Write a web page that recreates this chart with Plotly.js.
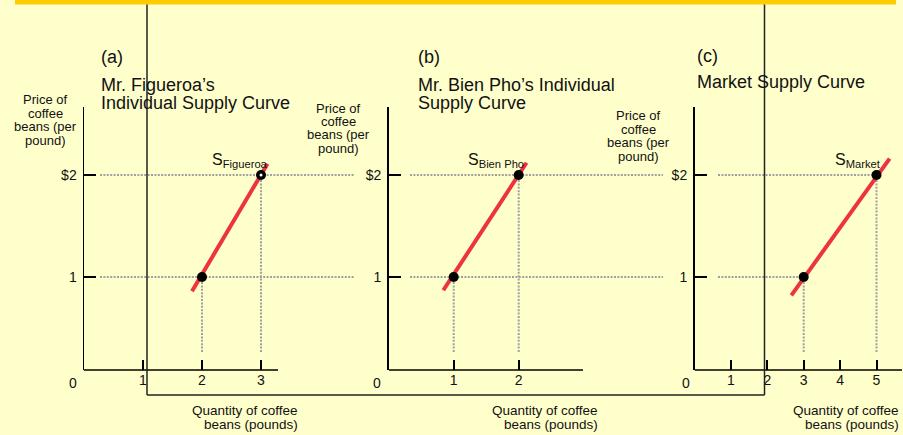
<!DOCTYPE html>
<html>
<head>
<meta charset="utf-8">
<script src="https://cdn.plot.ly/plotly-3.0.1.min.js"></script>
<style>
  html, body { margin: 0; padding: 0; background: #FFFFCC; }
  #chart { width: 903px; height: 435px; }
</style>
</head>
<body>
<div id="chart"></div>
<script>
// ---------- DATA ----------
const prices = [1, 2];                       // price points ($ per pound)
const priceTickText = ['1', '$2'];
const qtyFigueroa = [2, 3];                  // pounds supplied by Mr. Figueroa
const qtyBienPho = [1, 2];                   // pounds supplied by Mr. Bien Pho
const qtyMarket = [3, 5];                    // market quantity supplied
const ticksA = [1, 2, 3];
const ticksB = [1, 2];
const ticksC = [1, 2, 3, 4, 5];
// supply-curve segment ends (quantity, price)
const supplyA_x = [1.83, 3.11], supplyA_y = [0.86, 2.11];
const supplyB_x = [0.84, 2.12], supplyB_y = [0.87, 2.12];
const supplyC_x = [2.66, 5.36], supplyC_y = [0.82, 2.16];
const panelLetters = ['(a)', '(b)', '(c)'];
const supplyNames = ['Figueroa', 'Bien Pho', 'Market'];

// ---------- LAYOUT HELPERS ----------
const W = 903, H = 435;
const FONT = 'Liberation Sans, Arial, Helvetica, sans-serif';
const TXT = '#111111';
const px = v => v / W;
const py = v => 1 - v / H;

// panel geometry (pixels) : y-axis pixel, pixels per unit, domain right edge, axis line end
const panels = [
  { x0: 84,    unit: 59,   right: 356, axisEnd: 278, guideFrom: 100, guideTo: 355 },
  { x0: 388.7, unit: 65,   right: 664, axisEnd: 583, guideFrom: 410, guideTo: 663 },
  { x0: 694.5, unit: 36.4, right: 903, axisEnd: 902, guideFrom: 718, guideTo: null }
];
const yTopPx = 107, yBotPx = 370;
const y2Px = 175, y1Px = 277;
const pUnit = (y1Px - y2Px);
const yVal = p => 2 - (p - y2Px) / pUnit;
const yRange = [yVal(yBotPx), yVal(yTopPx)];
const guideBottom = yVal(352);

const qtys = [qtyFigueroa, qtyBienPho, qtyMarket];
const supX = [supplyA_x, supplyB_x, supplyC_x];
const supY = [supplyA_y, supplyB_y, supplyC_y];
const tickSets = [ticksA, ticksB, ticksC];

const RED = '#EE3340';
const GUIDE = '#A0A0A0';
const DOT = '2px,1.4px';

const traces = [];
const layout = {
  width: W, height: H,
  margin: { l: 0, r: 0, t: 0, b: 0 },
  paper_bgcolor: '#FFFFCC', plot_bgcolor: 'rgba(0,0,0,0)',
  showlegend: false,
  font: { family: FONT, color: TXT },
  shapes: [], annotations: []
};

panels.forEach((pn, i) => {
  const xa = i === 0 ? 'x' : 'x' + (i + 1);
  const ya = i === 0 ? 'y' : 'y' + (i + 1);
  const xName = i === 0 ? 'xaxis' : 'xaxis' + (i + 1);
  const yName = i === 0 ? 'yaxis' : 'yaxis' + (i + 1);
  const xv = p => (p - pn.x0) / pn.unit;
  const q = qtys[i];

  layout[xName] = {
    domain: [px(pn.x0), px(pn.right)], range: [0, xv(pn.right)],
    anchor: ya, showgrid: false, zeroline: false, showline: false,
    ticks: 'inside', ticklen: 10, tickwidth: 2, tickcolor: '#000',
    tickvals: tickSets[i], ticktext: tickSets[i].map(String),
    tickfont: { size: 14, family: FONT, color: TXT }, fixedrange: true
  };
  layout[yName] = {
    domain: [py(yBotPx), py(yTopPx)], range: yRange,
    anchor: xa, showgrid: false, zeroline: false,
    showline: true, linecolor: '#000', linewidth: 1.5,
    ticks: 'inside', ticklen: 12, tickwidth: 2, tickcolor: '#000',
    tickvals: prices, ticktext: priceTickText, ticklabelstandoff: 3,
    tickfont: { size: 14, family: FONT, color: TXT }, fixedrange: true
  };
  // x axis line (only to its drawn length)
  layout.shapes.push({ type: 'line', xref: xa, yref: 'paper', x0: 0, x1: xv(pn.axisEnd),
    y0: py(yBotPx), y1: py(yBotPx), line: { color: '#000', width: 1.5 } });

  // horizontal guides
  prices.forEach((p, k) => {
    const xEnd = pn.guideTo === null ? q[k] : xv(pn.guideTo);
    traces.push({ x: [xv(pn.guideFrom), xEnd], y: [p, p], xaxis: xa, yaxis: ya,
      mode: 'lines', line: { color: GUIDE, width: 2, dash: DOT }, hoverinfo: 'skip', cliponaxis: false });
  });
  // vertical guides
  q.forEach((qq, k) => {
    traces.push({ x: [qq, qq], y: [guideBottom, prices[k]], xaxis: xa, yaxis: ya,
      mode: 'lines', line: { color: GUIDE, width: 2, dash: DOT }, hoverinfo: 'skip' });
  });
  // supply curve
  traces.push({ x: supX[i], y: supY[i], xaxis: xa, yaxis: ya, mode: 'lines',
    line: { color: RED, width: 4 }, hoverinfo: 'skip' });
  // points
  traces.push({ x: q, y: prices, xaxis: xa, yaxis: ya, mode: 'markers',
    marker: { color: '#000', size: 10 }, hoverinfo: 'skip', cliponaxis: false });
});
// tiny white centre on Figueroa's upper point
traces.push({ x: [qtyFigueroa[1]], y: [prices[1]], xaxis: 'x', yaxis: 'y', mode: 'markers',
  marker: { color: '#ffffff', size: 3 }, hoverinfo: 'skip', cliponaxis: false });

// ---------- DECORATION ----------
layout.shapes.push({ type: 'rect', xref: 'paper', yref: 'paper', x0: px(15), x1: px(896),
  y0: py(4.5), y1: py(0), fillcolor: '#FFCC00', line: { width: 0 } });
const frame = { color: '#222', width: 1.5 };
layout.shapes.push({ type: 'line', xref: 'paper', yref: 'paper', x0: px(147), x1: px(147), y0: py(4.5), y1: py(395), line: frame });
layout.shapes.push({ type: 'line', xref: 'paper', yref: 'paper', x0: px(764.5), x1: px(764.5), y0: py(4.5), y1: py(395), line: frame });
layout.shapes.push({ type: 'line', xref: 'paper', yref: 'paper', x0: px(147), x1: px(764.5), y0: py(395), y1: py(395), line: frame });

// ---------- TEXT ----------
function ann(text, x, y, xanchor, size) {
  layout.annotations.push({ xref: 'paper', yref: 'paper', x: px(x), y: py(y), text: text,
    showarrow: false, xanchor: xanchor, yanchor: 'middle', borderpad: 0,
    font: { size: size, family: FONT, color: TXT } });
}
const titleLines = [
  ['Mr. Figueroa’s', 'Individual Supply Curve'],
  ['Mr. Bien Pho’s Individual', 'Supply Curve'],
  ['Market Supply Curve']
];
const titleX = [100, 417, 695.5];
const letterY = [57, 57, 56];
const titleY0 = [85, 85, 82];
const yTitle = ['Price of', 'coffee', 'beans (per', 'pound)'];
const yTitleX = [45, 338, 638];
const yTitleY0 = [100, 108, 116];
const xTitle = ['Quantity of coffee', 'beans (pounds)'];
const xTitleX = [299, 599, 900];
const zeroX = [73, 377, 686];
const sX = [211, 467, 834];

for (let i = 0; i < 3; i++) {
  ann(panelLetters[i], titleX[i], letterY[i], 'left', 18);
  titleLines[i].forEach((t, k) => ann(t, titleX[i], titleY0[i] + 18 * k, 'left', 18));
  yTitle.forEach((t, k) => ann(t, yTitleX[i], yTitleY0[i] + 13.4 * k, 'center', 13));
  xTitle.forEach((t, k) => ann(t, xTitleX[i], 410 + 14 * k, 'right', 13.5));
  ann('0', zeroX[i], 383, 'center', 14);
  ann('S<sub>' + supplyNames[i] + '</sub>', sX[i], 160, 'left', 16);
}

Plotly.newPlot('chart', traces, layout, { staticPlot: true, displayModeBar: false });
</script>
</body>
</html>
